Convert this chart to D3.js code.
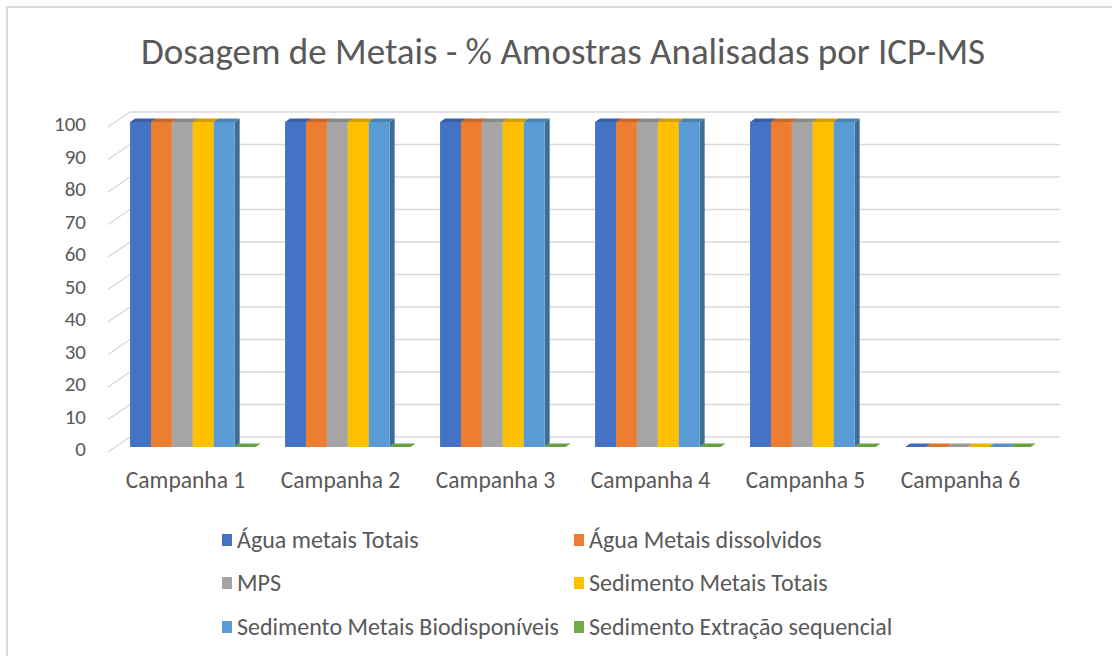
<!DOCTYPE html>
<head>
  <meta charset="utf-8">
  <script src="https://d3js.org/d3.v7.min.js"></script>
  <style>
    body { margin: 0; background: #fff; }
    text { font-family: Calibri, Carlito, "Open Sans", sans-serif; fill: #595959; }
  </style>
</head>
<body>
<script>
  // data
  var categories = ["Campanha 1", "Campanha 2", "Campanha 3", "Campanha 4", "Campanha 5", "Campanha 6"];
  var seriesNames = ["Água metais Totais", "Água Metais dissolvidos", "MPS",
                     "Sedimento Metais Totais", "Sedimento Metais Biodisponíveis", "Sedimento Extração sequencial"];
  var aguaTotais      = [100, 100, 100, 100, 100, 0];
  var aguaDissolvidos = [100, 100, 100, 100, 100, 0];
  var mps             = [100, 100, 100, 100, 100, 0];
  var sedTotais       = [100, 100, 100, 100, 100, 0];
  var sedBiodisp      = [100, 100, 100, 100, 100, 0];
  var sedExtracao     = [0, 0, 0, 0, 0, 0];
  var yTicks = [0, 10, 20, 30, 40, 50, 60, 70, 80, 90, 100];
  var colors = ["#4472C4", "#ED7D31", "#A5A5A5", "#FFC000", "#5B9BD5", "#70AD47"];

  var seriesValues = [aguaTotais, aguaDissolvidos, mps, sedTotais, sedBiodisp, sedExtracao];

  var W = 1112, H = 656;
  var svg = d3.select("body").append("svg")
      .attr("width", W).attr("height", H);

  // chart frame
  svg.append("path")
      .attr("d", "M7,656 L7,7 L1112,7")
      .attr("fill", "none").attr("stroke", "#d9d9d9").attr("stroke-width", 2);

  svg.append("text")
      .attr("x", 563).attr("y", 64)
      .attr("text-anchor", "middle")
      .style("font-size", "37px")
      .text("Dosagem de Metais - % Amostras Analisadas por ICP-MS");

  // 3d geometry: front plane scales plus a depth vector toward the back wall
  var depth = {dx: 22, dy: -15};
  var x = d3.scaleBand().domain(categories).range([108, 1038])
      .paddingInner(0.19).paddingOuter(0.095);
  var xs = d3.scaleBand().domain(d3.range(seriesNames.length)).range([0, x.bandwidth()]);
  var y = d3.scaleLinear().domain([0, 100]).range([452, 127]);

  var grid = svg.append("g");
  // back wall gridlines
  grid.selectAll(".back").data(yTicks).enter().append("line")
      .attr("x1", x.range()[0] + depth.dx).attr("x2", x.range()[1] + depth.dx)
      .attr("y1", d => y(d) + depth.dy).attr("y2", d => y(d) + depth.dy)
      .attr("stroke", "#d9d9d9").attr("stroke-width", 1.5);
  // side wall gridlines
  grid.selectAll(".side").data(yTicks).enter().append("line")
      .attr("x1", x.range()[0]).attr("x2", x.range()[0] + depth.dx)
      .attr("y1", d => y(d)).attr("y2", d => y(d) + depth.dy)
      .attr("stroke", "#d9d9d9").attr("stroke-width", 1.5);

  svg.append("g").selectAll("text").data(yTicks).enter().append("text")
      .attr("x", 86).attr("y", d => y(d) - 3)
      .attr("dy", "0.35em")
      .attr("text-anchor", "end")
      .style("font-size", "21px")
      .text(d => d);

  svg.append("g").selectAll("text").data(categories).enter().append("text")
      .attr("x", d => x(d) + x.bandwidth() / 2).attr("y", 488)
      .attr("text-anchor", "middle")
      .style("font-size", "23.5px")
      .text(d => d);

  // bars sit between two depths
  var t1 = 1 / 3, t2 = 0.56;
  var f = {dx: depth.dx * t1, dy: depth.dy * t1};
  var b = {dx: depth.dx * t2, dy: depth.dy * t2};

  var bars = [];
  categories.forEach(function (c, ci) {
    seriesValues.forEach(function (vals, si) {
      bars.push({cat: c, s: si, value: vals[ci]});
    });
  });

  var barG = svg.append("g");
  bars.forEach(function (d) {
    var x0 = x(d.cat) + xs(d.s) + f.dx, x1 = x0 + xs.bandwidth();
    var yTop = y(d.value) + f.dy, yBot = y(0) + f.dy;
    var bx = b.dx - f.dx, by = b.dy - f.dy;
    var col = d3.color(colors[d.s]);
    var g = barG.append("g");
    // side
    g.append("path")
        .attr("d", "M" + x1 + "," + yBot + "L" + (x1 + bx) + "," + (yBot + by) +
             "L" + (x1 + bx) + "," + (yTop + by) + "L" + x1 + "," + yTop + "Z")
        .attr("fill", col.darker(1));
    // front
    if (d.value > 0) {
      g.append("rect")
          .attr("x", x0).attr("y", yTop)
          .attr("width", xs.bandwidth()).attr("height", yBot - yTop)
          .attr("fill", col);
    }
    // top
    g.append("path")
        .attr("d", "M" + x0 + "," + yTop + "L" + x1 + "," + yTop +
             "L" + (x1 + bx) + "," + (yTop + by) + "L" + (x0 + bx) + "," + (yTop + by) + "Z")
        .attr("fill", d.value > 0 ? col.darker(0.5) : col.darker(0.2));
  });

  // legend
  var legX = [222, 574], legY = [540, 583, 627];
  var leg = svg.append("g").selectAll("g").data(seriesNames).enter().append("g")
      .attr("transform", (d, i) => "translate(" + legX[i % 2] + "," + legY[Math.floor(i / 2)] + ")");
  leg.append("rect")
      .attr("x", 0).attr("y", -6).attr("width", 10).attr("height", 12)
      .attr("fill", (d, i) => colors[i]);
  leg.append("text")
      .attr("x", 15).attr("y", 0).attr("dy", "0.35em")
      .style("font-size", "24px")
      .text(d => d);
</script>
</body>
